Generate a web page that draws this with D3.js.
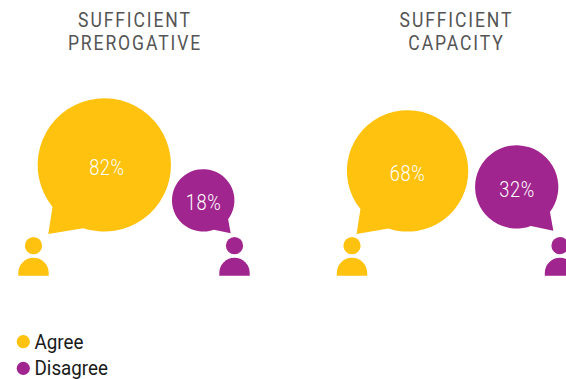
<!DOCTYPE html>
<html>
<head>
<meta charset="utf-8">
<script src="https://cdn.jsdelivr.net/npm/d3@7"></script>
<style>
  html, body { margin: 0; padding: 0; background: #fff; overflow: hidden; }
  text { font-family: Roboto, sans-serif; }
</style>
</head>
<body>
<div id="container"></div>
<script>
let titles = [["SUFFICIENT", "PREROGATIVE"], ["SUFFICIENT", "CAPACITY"]];
let series = ["Agree", "Disagree"];
let agree = [82, 68];
let disagree = [18, 32];
let colors = ["#ffc20e", "#a0258f"];

let w = 566;
let h = 379;

// where the panels sit and how each pair of bubbles is pushed around
let panelX = [135, 456.5];
let agreeDx = [-30.7, -48.9];
let disagreeDx = [68.2, 60.2];
let disagreeLift = [0, 3];
let agreeLabelDx = [2.6, 0];
let personDx = [[-101.5, 99.5], [-104.5, 103.5]];
let baseline = 231.6;

let r = d3.scaleSqrt().domain([0, 100]).range([0, 73.6]);

let viz = d3.select('#container')
  .append('svg')
    .attr('width', w)
    .attr('height', h)
    .style('display', 'block')
;

function rad(deg){
  return deg * Math.PI / 180;
}

// circle with a tail, tail angles are the same proportions on every bubble
function bubblePath(cx, cy, radius, i){
  let from = i == 0 ? 141 : 37;
  let to = i == 0 ? 108.5 : 70;
  let tip = i == 0 ? 129 : 50;
  let dist = radius * (i == 0 ? 1.335 : 1.37);
  let p = d3.path();
  if(i == 0){
    p.arc(cx, cy, radius, rad(from), rad(to + 360));
  } else {
    p.arc(cx, cy, radius, rad(to), rad(from + 360));
  }
  p.lineTo(cx + dist * Math.cos(rad(tip)), cy + dist * Math.sin(rad(tip)));
  p.closePath();
  return p.toString();
}

function drawPerson(g, x, color){
  g.append('circle')
    .attr('cx', x)
    .attr('cy', 245.7)
    .attr('r', 8.6)
    .attr('fill', color)
  ;
  g.append('path')
    .attr('d', 'M' + (x - 15.2) + ',275.7 V272.9 A15.2,15.2 0 0 1 ' + (x + 15.2) + ',272.9 V275.7 Z')
    .attr('fill', color)
  ;
}

// condensed look: Roboto Condensed is not there, so squeeze Roboto
function squeezed(g, x, y, str, size, sx){
  return g.append('text')
    .attr('transform', 'translate(' + x + ',' + y + ') scale(' + sx + ',1)')
    .attr('font-size', size)
    .text(str)
  ;
}

panelX.forEach(function(px, i){
  let g = viz.append('g').classed('panel', true);

  titles[i].forEach(function(line, k){
    squeezed(g, px, 26.7 + k * 23.3, line, '19.5px', 0.9)
      .attr('text-anchor', 'middle')
      .attr('letter-spacing', '2.1px')
      .attr('fill', '#555555')
    ;
  });

  [agree[i], disagree[i]].forEach(function(v, s){
    let radius = r(v);
    let cx = px + (s == 0 ? agreeDx[i] : disagreeDx[i]);
    let cy = baseline - radius - (s == 0 ? 0 : disagreeLift[i]);
    let labelDx = s == 0 ? agreeLabelDx[i] : 0.3;

    g.append('path')
      .attr('d', bubblePath(cx, cy, radius, s))
      .attr('fill', colors[s])
    ;
    squeezed(g, cx + labelDx, cy + 10, v + '%', '21.5px', 0.85)
      .attr('text-anchor', 'middle')
      .attr('font-weight', 300)
      .attr('letter-spacing', '0.7px')
      .attr('fill', '#ffffff')
    ;
    drawPerson(g, px + personDx[i][s], colors[s]);
  });
});

let legend = viz.append('g').classed('legend', true);

series.forEach(function(name, i){
  legend.append('circle')
    .attr('cx', 23.3)
    .attr('cy', 341.7 + i * 26.6)
    .attr('r', 6.6)
    .attr('fill', colors[i])
  ;
  squeezed(legend, 34.5, 349 + i * 26, name, '20px', 0.94)
    .attr('fill', '#1a1a1a')
  ;
});
</script>
</body>
</html>
